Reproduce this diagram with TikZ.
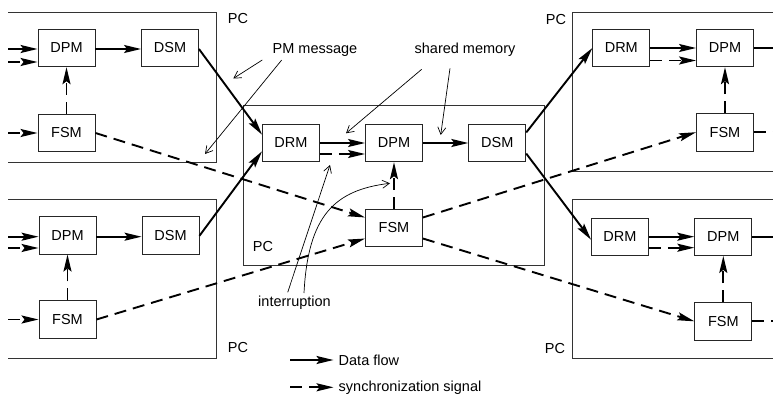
\documentclass[tikz,border=0pt]{standalone}
\usepackage{fontspec}
\setmainfont{Liberation Sans}
\usetikzlibrary{arrows.meta,calc}
\begin{document}
\begin{tikzpicture}[x=1pt,y=-1pt,
  blk/.style={draw=black!85,line width=0.9pt,minimum width=57pt,minimum height=37.5pt,inner sep=0pt,font=\fontsize{14.5}{16}\selectfont},
  lbl/.style={inner sep=0pt,font=\fontsize{14.5}{16}\selectfont},
  pcbox/.style={draw=black!80,line width=0.9pt},
  flow/.style={line width=1.9pt,-{Stealth[length=17pt,width=8pt,inset=3pt]}},
  sync/.style={line width=1.9pt,dash pattern=on 12pt off 7pt,-{Stealth[length=17pt,width=8pt,inset=3pt]}},
  flowline/.style={line width=1.9pt},
  syncline/.style={line width=1.9pt,dash pattern=on 12pt off 7pt},
  note/.style={line width=0.7pt,-{Straight Barb[length=7pt,width=8pt]}}]
\useasboundingbox (0,0) rectangle (773,396);

% PC boxes (open where the picture is cropped)
\draw[pcbox] (8,12) -- (216,12) -- (216,162) -- (8,162);
\draw[pcbox] (8,199.5) -- (216,199.5) -- (216,358) -- (8,358);
\draw[pcbox] (243.5,105.5) rectangle (544.5,265);
\draw[pcbox] (773,12.3) -- (572.5,12.3) -- (572.5,171.7) -- (773,171.7);
\draw[pcbox] (773,199.3) -- (572.7,199.3) -- (572.7,358.3) -- (773,358.3);

\node[lbl] (pcA) at (238,19) {PC};
\node[lbl] (pcB) at (238,348) {PC};
\node[lbl] (pcC) at (263,247) {PC};
\node[lbl] (pcD) at (556,20) {PC};
\node[lbl] (pcE) at (555,349) {PC};

% blocks
\node[blk] (dpmA) at (66.5,48) {DPM};
\node[blk] (dsmA) at (170,48) {DSM};
\node[blk] (fsmA) at (66.5,133) {FSM};

\node[blk] (dpmB) at (67.5,235.3) {DPM};
\node[blk] (dsmB) at (170.5,235.3) {DSM};
\node[blk] (fsmB) at (67.5,319.5) {FSM};

\node[blk] (drmC) at (291,143) {DRM};
\node[blk] (dpmC) at (394,143) {DPM};
\node[blk] (dsmC) at (497.3,143) {DSM};
\node[blk] (fsmC) at (394,228) {FSM};

\node[blk] (drmD) at (621.3,48) {DRM};
\node[blk] (dpmD) at (725,48) {DPM};
\node[blk] (fsmD) at (725,132.2) {FSM};

\node[blk] (drmE) at (620,236.7) {DRM};
\node[blk] (dpmE) at (723.3,236.7) {DPM};
\node[blk] (fsmE) at (723.3,321.3) {FSM};

% free ends at the cropped edges
\coordinate (inA1) at (8,49);
\coordinate (inA2) at (8,62);
\coordinate (inA3) at (8,133);
\coordinate (inB1) at (8,236.7);
\coordinate (inB2) at (8,248);
\coordinate (inB3) at (8,319.5);
\coordinate (outD1) at (773,48);
\coordinate (outD2) at (773,132.2);
\coordinate (outE1) at (773,236.7);
\coordinate (outE2) at (773,321.3);

% left top PC
\draw[flow] (inA1) -- (inA1 -| dpmA.west);
\draw[sync] (inA2) -- (inA2 -| dpmA.west);
\draw[sync] (inA3) -- (fsmA.west);
\draw[flow] ([yshift=-1pt]dpmA.east) -- ([yshift=-1pt]dsmA.west);
\draw[sync] (fsmA.north) -- (dpmA.south);

% left bottom PC
\draw[flow] (inB1) -- (inB1 -| dpmB.west);
\draw[sync] (inB2) -- (inB2 -| dpmB.west);
\draw[sync] (inB3) -- (fsmB.west);
\draw[flow] ([yshift=-1.4pt]dpmB.east) -- ([yshift=-1.4pt]dsmB.west);
\draw[sync] (fsmB.north) -- (dpmB.south);

% central PC
\draw[flow] (drmC.east) -- (dpmC.west);
\draw[sync] ([yshift=-11pt]drmC.east) -- ([yshift=-11pt]dpmC.west);
\draw[flow] (dpmC.east) -- (dsmC.west);
\draw[sync] (fsmC.north) -- (dpmC.south);

% right top PC
\draw[flow] (drmD.east) -- (dpmD.west);
\draw[sync] ([yshift=-12.5pt]drmD.east) -- ([yshift=-12.5pt]dpmD.west);
\draw[sync] (fsmD.north) -- (dpmD.south);
\draw[flowline] (dpmD.east) -- (outD1);
\draw[syncline] (fsmD.east) -- (outD2);

% right bottom PC
\draw[flow] (drmE.east) -- (dpmE.west);
\draw[sync] ([yshift=-11pt]drmE.east) -- ([yshift=-11pt]dpmE.west);
\draw[sync] (fsmE.north) -- (dpmE.south);
\draw[flowline] (dpmE.east) -- (outE1);
\draw[syncline] (fsmE.east) -- (outE2);

% links between PCs
\draw[flow] ([yshift=-1pt]dsmA.east) -- (drmC.164);
\draw[flow] ([yshift=-0.5pt]dsmB.east) -- (drmC.196);
\draw[sync] (fsmA.east) -- (fsmC.160);
\draw[sync] (fsmB.east) -- (fsmC.200);
\draw[flow] (dsmC.20) -- (drmD.west);
\draw[flow] (dsmC.-20) -- ([yshift=-3pt]drmE.west);
\draw[sync] (fsmC.20) -- (fsmD.west);
\draw[sync] (fsmC.-20) -- (fsmE.west);

% annotations
\node[lbl] (pmtext) at (315,50) {PM message};
\node[lbl] (smtext) at (465,50) {shared memory};
\node[lbl] (inttext) at (294.5,302.5) {interruption};
\coordinate (pm1s) at (262.3,60);
\coordinate (pm1e) at (233.3,78.5);
\coordinate (pm2s) at (281.7,60);
\coordinate (pm2e) at (205,154);
\coordinate (sm1s) at (421.7,69.3);
\coordinate (sm1e) at (346,133.3);
\coordinate (sm2s) at (450,68.3);
\coordinate (sm2e) at (440.7,135);
\coordinate (in1s) at (287.7,292.3);
\coordinate (in1e) at (330,165);
\coordinate (in2s) at (304,293);
\coordinate (in2e) at (390,183.3);
\draw[note] (pm1s) -- (pm1e);
\draw[note] (pm2s) -- (pm2e);
\draw[note] (sm1s) -- (sm1e);
\draw[note] (sm2s) -- (sm2e);
\draw[note] (in1s) -- (in1e);
\draw[note] (in2s) .. controls (308,215) and (335,190) .. (in2e);

% legend
\coordinate (lg1s) at (290,360);
\coordinate (lg1e) at (333.5,360);
\coordinate (lg2s) at (290,387.3);
\coordinate (lg2e) at (333.5,387.3);
\draw[flow] (lg1s) -- (lg1e);
\draw[sync] (lg2s) -- (lg2e);
\node[lbl,anchor=west] (lgt1) at (338.5,360) {Data flow};
\node[lbl,anchor=west] (lgt2) at (338.5,387.3) {synchronization signal};
\end{tikzpicture}
\end{document}
